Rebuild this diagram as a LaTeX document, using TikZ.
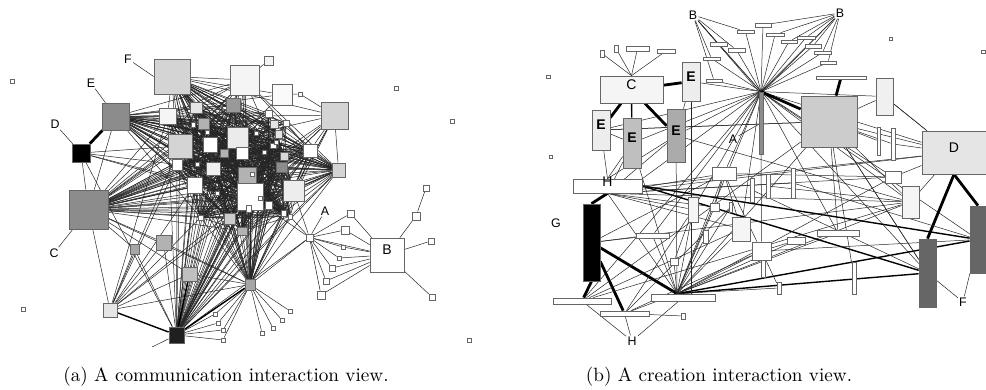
\documentclass[tikz,border=0pt]{standalone}
\usepackage{fontspec}
\newfontfamily\lbf{Liberation Sans}
\usetikzlibrary{fit}
\pgfdeclarelayer{bg}
\pgfsetlayers{bg,main}
\tikzset{
 nd/.style={draw=black!60, line width=0.35pt, inner sep=0pt, fill=white, font=\lbf\fontsize{5.8}{6}\selectfont},
 bnd/.style={nd, font=\lbf\fontsize{7}{7}\selectfont},
 bx/.style n args={4}{fit={(#1,#2) (#3,#4)}},
 ed/.style={line width=0.25pt, draw=black!85},
 md/.style={line width=0.7pt, draw=black},
 tk/.style={line width=1.4pt, draw=black},
 lb/.style={font=\lbf\fontsize{6.2}{6.2}\selectfont, inner sep=0.5pt},
 captxt/.style={font=\fontsize{9.6}{11}\selectfont, anchor=base, inner sep=0pt},
}
\begin{document}
\begin{tikzpicture}[x=0.5pt,y=-0.5pt]
\begin{pgfonlayer}{bg}\fill[white] (0,0) rectangle (986,390);\end{pgfonlayer}
\useasboundingbox (0,0) rectangle (986,390);

% ================= panel (a) nodes =================
\node[nd,fill=black!17,bx={154}{59}{190}{94}] (aF) {};
\node[nd,fill=black!4,bx={230}{65}{259}{95}] (aT1) {};
\node[nd,fill=black!4,bx={264}{56}{273}{65}] (aT2) {};
\node[nd,fill=black!2,bx={272}{84}{292}{105}] (aT3) {};
\node[nd,bx={298}{92}{302}{96}] (at4) {};
\node[nd,fill=black!17,bx={321}{102}{348}{129}] (aR1) {};
\node[nd,fill=black!45,bx={102}{103}{129}{130}] (aE) {};
\node[nd,fill=black,bx={72}{144}{90}{162}] (aD) {};
\node[nd,fill=black!45,bx={69}{190}{108}{229}] (aC) {};
\node[nd,bx={306}{234}{313}{241}] (aA) {};
\node[bnd,bx={370}{238}{404}{272}] (aB) {B};
\node[nd,fill=black!88,bx={169}{327}{184}{343}] (aK) {};
\node[nd,fill=black!10,bx={103}{303}{117}{317}] (aL) {};
\node[nd,fill=black!35,bx={245}{279}{255}{290}] (aH) {};
\node[nd,fill=black!25,bx={182}{267}{197}{281}] (aG1) {};
\node[nd,fill=black!35,bx={130}{244}{139}{254}] (aG2) {};
\node[nd,fill=black!30,bx={156}{235}{171}{250}] (aG3) {};
\foreach \n/\p/\q/\r/\s/\f in {
 c1/159/108/176/124/4, c2/190/102/202/113/10, c3/226/98/240/112/40,
 c4/198/118/209/129/30, c5/168/134/192/158/17, c6/203/137/217/152/0,
 c7/227/127/248/148/8, c8/236/147/248/159/0, c9/172/159/182/170/0,
 c10/206/162/220/175/6, c11/238/167/256/184/30, c12/187/177/202/193/0,
 c13/237/183/263/210/0, c14/283/180/304/201/7, c15/303/144/317/157/0,
 c16/332/163/345/177/17, c17/276/162/287/172/45, c18/280/152/288/160/15,
 c19/224/213/235/224/20, c20/237/227/247/235/30, c21/246/205/251/212/0,
 c22/265/201/272/209/0, c23/281/210/286/216/0, c24/288/214/292/219/0,
 c25/198/215/203/220/0,
 s1/265/110/272/117/0, s2/283/120/289/126/0, s3/270/143/276/148/0,
 s4/205/130/209/134/0, s5/195/162/199/166/0, s6/215/191/219/195/0,
 s7/191/122/195/127/0, s8/220/149/228/157/30, s9/254/131/258/135/0,
 s10/262/150/266/154/0, s11/274/140/278/144/0, s12/250/172/254/176/0,
 s13/258/196/262/200/0, s14/275/130/282/138/10, s15/270/120/278/128/10,
 h1/213/312/217/316/0, h2/216/321/220/325/0, h3/221/328/225/332/0,
 h4/221/338/225/342/0, h5/260/331/264/335/0, h6/271/326/275/330/0,
 h7/280/318/284/322/0, h8/288/309/292/313/0,
 b1/423/185/429/191/0, b2/412/212/420/220/0, b3/428/238/434/244/0,
 b4/429/294/435/300/0, b5/317/291/325/299/0, b6/347/210/354/217/0,
 b7/341/226/349/234/0, b8/341/245/345/249/0, b9/337/256/341/260/0,
 b10/329/265/335/271/0, b11/323/278/329/284/0,
 i1/10/79/14/83/0, i2/21/307/25/311/0, i3/394/86/398/90/0,
 i4/450/119/454/123/0, i5/467/338/471/342/0}
 {\node[nd,fill=black!\f,bx={\p}{\q}{\r}{\s}] (\n) {};}

\node[lb] (lF) at (128,59) {F};
\node[lb] (lE) at (91,83) {E};
\node[lb] (lD) at (55,124) {D};
\node[lb] (lC) at (54,253) {C};
\node[lb] (lA) at (325,211) {A};
\coordinate (kx) at (152,347);

% ================= panel (b) nodes =================
\node[lb] (bB1) at (693,15) {B};
\node[lb] (bB2) at (840,13) {B};
\foreach \n/\p/\q/\r/\s/\f in {
 r1/755/23/771/27/0, r2/737/30/754/33/0, r3/766/33/784/36/0,
 r4/710/42/727/46/0, r5/728/48/745/52/0, r6/781/40/797/43/0,
 r7/797/36/815/39/0, r8/805/44/821/48/0, r9/814/51/831/54/0,
 r10/820/61/836/64/0, r11/703/57/720/60/0, r12/706/79/722/82/0,
 u1/600/50/604/57/0, u2/614/45/618/52/0, u3/626/46/649/51/0, u4/657/49/675/53/0,
 j1/546/75/550/78/0, j2/549/155/552/158/0, j3/889/37/892/40/0, j4/981/50/985/53/0,
 bA/759/92/763/154/45, bS/801/96/857/147/20, bh/816/76/866/79/0,
 bv/876/78/893/115/6, bt1/877/127/880/155/0, bt2/891/128/895/160/0,
 bG/583/204/600/281/100,
 bo1/553/298/611/304/0, bo2/600/311/649/316/0, bo3/651/294/715/301/0, bo4/681/313/685/319/0,
 bF1/919/239/936/307/60, bF2/970/206/986/273/60,
 m1/712/167/736/180/0, m2/688/197/698/222/4, m3/710/203/719/211/0,
 m4/729/202/732/212/0, m5/732/217/750/241/4, m6/752/242/771/260/0,
 m7/636/233/669/238/0, m8/703/230/708/243/0, m9/670/258/678/265/0,
 m10/750/178/754/202/0, m11/766/174/770/198/0, m12/791/168/795/198/0,
 m13/885/171/901/183/0, m14/902/186/919/218/4, m15/787/237/805/244/0,
 m16/817/230/859/236/0, m17/852/262/856/294/0, m18/777/282/781/294/0,
 m19/761/260/765/277/0}
 {\node[nd,fill=black!\f,bx={\p}{\q}{\r}{\s}] (\n) {};}
\node[bnd,fill=black!4,bx={600}{76}{663}{103}] (bC) {C};
\node[bnd,fill=black!7,bx={682}{62}{700}{101}] (bE1) {\textbf{E}};
\node[bnd,fill=black!7,bx={592}{110}{610}{150}] (bE2) {\textbf{E}};
\node[bnd,fill=black!25,bx={623}{118}{641}{168}] (bE3) {\textbf{E}};
\node[bnd,fill=black!33,bx={667}{109}{685}{162}] (bE4) {\textbf{E}};
\node[bnd,fill=black!10,bx={922}{131}{986}{174}] (bD) {D};
\node[bnd,bx={573}{179}{642}{193}] (bH) {H};
\node[lb] (lbA) at (733,139) {A};
\node[lb] (lbG) at (556,223) {G};
\node[lb] (lbH) at (632,341) {H};
\node[lb] (lbF) at (963,302) {F};
\coordinate (bo3p) at ([xshift=-3pt]bo3.north);

% ================= captions =================
\node[captxt] (capa) at (226,381) {(a) A communication interaction view.};
\node[captxt] (capb) at (719,381) {(b) A creation interaction view.};

% ================= edges =================
\begin{pgfonlayer}{bg}
% ---- panel (a)
\foreach \s in {aC,aK,aF,aE} {\foreach \i in {1,...,25} {\draw[ed] (\s) -- (c\i);}}
\foreach \i in {5,...,25} {\draw[ed] (aH) -- (c\i);}
\foreach \i in {1,...,16} {\draw[ed] (aT1) -- (c\i);}
\foreach \i in {1,5,9,12,13,19,25} {\draw[ed] (aL) -- (c\i);}
\foreach \i in {7,11,13,14,15,16,17,18} {\draw[ed] (aR1) -- (c\i);}
\foreach \i in {5,9,12,13} {\draw[ed] (aD) -- (c\i);}
\foreach \i in {1,...,24} {\foreach \j in {\i,...,25} {\ifnum\i<\j \draw[ed] (c\i) -- (c\j);\fi}}
\foreach \i in {1,...,15} {\foreach \j in {1,...,25} {\ifodd\numexpr\i+\j\relax \draw[ed] (s\i) -- (c\j);\fi}}
\foreach \i in {1,...,15} {\draw[ed] (aC) -- (s\i); \draw[ed] (aK) -- (s\i); \draw[ed] (aH) -- (s\i); \draw[ed] (aF) -- (s\i); \draw[ed] (aE) -- (s\i);}
\foreach \t in {aL,aG1,aG2,aG3,aH,aE} {\draw[ed] (aC) -- (\t);}
\foreach \t in {aG1,aG2,aG3,aH,aA,h1,h2,h3,h4} {\draw[ed] (aK) -- (\t);}
\foreach \t in {h1,h2,h3,h4,h5,h6,h7,h8,aA,aG1,aG3} {\draw[ed] (aH) -- (\t);}
\foreach \t in {aG1,aG2,aG3,aH} {\draw[ed] (aL) -- (\t);}
\foreach \t in {b5,b6,b7,b8,b9,b10,b11,aB,c13,c14,c24} {\draw[ed] (aA) -- (\t);}
\foreach \t in {b2,b3,b4,b5,b6,b7,b8,b9,b10,b11} {\draw[ed] (aB) -- (\t);}
\draw[ed] (b1) -- (b2);
\foreach \t in {aT1,aT3,aR1,c15,c16} {\draw[ed] (aF) -- (\t);}
\foreach \t in {aR1,c15,c16,aT1,aT3} {\draw[ed] (aE) -- (\t);}
\draw[ed] (aT1) -- (aT2); \draw[ed] (aT3) -- (at4); \draw[ed] (at4) -- (aR1);
\draw[ed] (aT3) -- (c7); \draw[ed] (aR1) -- (c14); \draw[ed] (aR1) -- (aH);
\draw[ed] (aD) -- (aK); \draw[ed] (aD) -- (aC);
\draw[tk] (aD) -- (aE);
\draw[md] (aL) -- (aK);
\draw[md] (aK) -- (aH);
\draw[md] (aK) -- (aG1);
\draw[ed] (aK) -- (kx);
\draw[ed] (lF) -- (aF.west);
\draw[ed] (lE) -- (aE);
\draw[ed] (lD) -- (aD);
\draw[ed] (lC) -- (aC);
\draw[ed] (lA) -- (aA);

% ---- panel (b)
\foreach \t in {r2,r4,r5,r11,r12} {\draw[ed] (bB1) -- (\t);}
\foreach \t in {r1,r3,r6,r7,r8,r9,r10} {\draw[ed] (bB2) -- (\t);}
\draw[ed] (bB1) -- (bA.north); \draw[ed] (bB2) -- (bA.north);
\draw[ed] (bB1) -- ([xshift=-1pt]bA.north); \draw[ed] (bB2) -- ([xshift=1pt]bA.north);
\foreach \t in {r1,r2,r3,r4,r5,r6,r7,r8,r9,r10,r11,r12} {\draw[ed] (bA.north) -- (\t);}
\foreach \t in {bE1,bE4,bE3,bH.north east,m1,m2,m5,bo3p,bF1,bF2,m14,m13,bD,bv,bE2,bo1,m7,m16} {\draw[ed] (bA.north) -- (\t);}
\draw[ed] (bA) -- (m6); \draw[ed] (m6) -- (m19);
\foreach \t in {u1,u2,u3,u4} {\draw[ed] (bC.north) -- (\t);}
\draw[tk] (bC) -- (bE2);
\draw[md] (bC) -- (bE3);
\draw[tk] (bC) -- (bE4);
\draw[tk] (bC) -- (bE1);
\draw[tk] (bA.north) -- (bS);
\draw[tk] (bh) -- (bS);
\draw[tk] (bD.south) -- (bF1.north);
\draw[tk] (bD.south) -- (bF2.north);
\draw[tk] (bH.south) -- (bG.north);
\draw[tk] (bG.south) -- (bo1);
\draw[tk] (bG) -- (bo2);
\draw[tk] (bG) -- (bo3p);
\draw[md] (bo3p) -- (bF1);
\draw[md] (bo3p) -- (bF2);
\draw[md] (bH.east) -- (bF1);
\draw[md] (bH.east) -- (bF2);
\foreach \t in {bE2,bE3,bE4} {\draw[ed] (bH.north) -- (\t);}
\draw[ed] (bE2) -- (bE3); \draw[ed] (bE1) -- (bE4);
\draw[ed] (bE1.south) -- (bE1.south |- bo3.north);
\foreach \t in {m2,m3,m4,m5,m6,m7,m8,m9,m13,m14,bE3,bE4,m1,bo2,m15,m16,m18,bS,bH.south} {\draw[ed] (bo3p) -- (\t);}
\foreach \t in {m2,m5,m13,m14,bD,m1,bE3,bE4,m3,m12} {\draw[ed] (bH.south) -- (\t);}
\foreach \t in {m13,bv,bS,bH.east,m14} {\draw[ed] (bD) -- (\t);}
\foreach \t in {bv,bt1,bt2,bF1,m14,bo1,bE2,m16} {\draw[ed] (bS) -- (\t);}
\foreach \t in {m5,m6,m3,m13} {\draw[ed] (m1) -- (\t);}
\draw[ed] (bG) -- (m7); \draw[ed] (bG) -- (m1); \draw[ed] (bG) -- (m14);
\draw[ed] (bo1) -- (m5); \draw[ed] (bo1) -- (m14); \draw[ed] (bo2) -- (m6);
\draw[ed] (bo2) -- (m4); \draw[ed] (bo2) -- (m2);
\draw[ed] (m9) -- (m2); \draw[ed] (m12) -- (bF2); \draw[ed] (m15) -- (m6);
\draw[ed] (m17) -- (bS); \draw[ed] (m18) -- (m6); \draw[ed] (bt2) -- (bD);
\draw[ed] (bv) -- (bD); \draw[ed] (m10) -- (bF1); \draw[ed] (m11) -- (m14);
\draw[ed] (bF1) -- (bS); \draw[ed] (m6) -- (bF2); \draw[ed] (bo4) -- (bo2);
\draw[ed] (bE2) -- (bS); \draw[ed] (bE4) -- (m14);
\draw[ed] (lbA) -- (bA);
\foreach \t in {bo1,bo2,bo3} {\draw[ed] (lbH) -- (\t);}
\draw[ed] (lbF) -- (bF1); \draw[ed] (lbF) -- (bF2);
\end{pgfonlayer}
\end{tikzpicture}
\end{document}
